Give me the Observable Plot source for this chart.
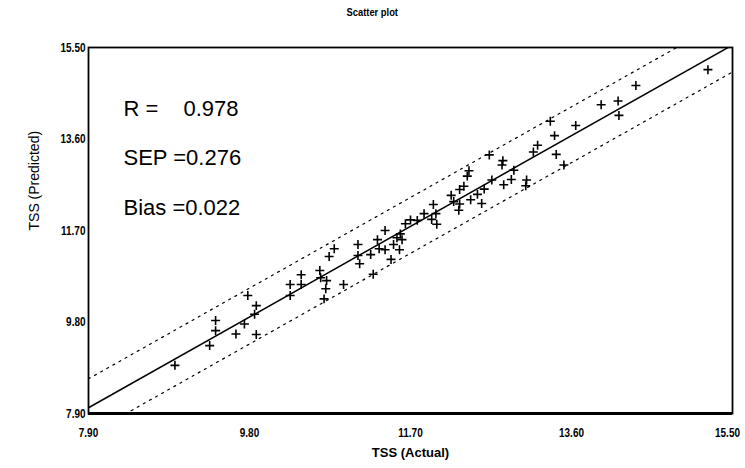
<!DOCTYPE html>
<html><head><meta charset="utf-8">
<script src="https://cdn.jsdelivr.net/npm/d3@7"></script>
<script src="https://cdn.jsdelivr.net/npm/@observablehq/plot@0.6"></script>
<style>
body{margin:0;background:#fff;}
#title{width:745px;height:24px;line-height:24px;text-align:center;font-family:"Liberation Sans",Arial,sans-serif;font-weight:bold;font-size:11px;color:#000;}
#title span{display:inline-block;transform:scaleX(0.85);}
</style></head><body>
<div id="title"><span>Scatter plot</span></div>
<div id="chart"></div>
<script>
const actual = [8.92, 9.33, 9.40, 9.40, 9.64, 9.74, 9.88, 9.88, 9.78, 9.86, 10.28, 10.28, 10.41, 10.41, 10.63, 10.64, 10.71, 10.70, 10.68, 10.74, 10.80, 10.91, 11.26, 11.08, 11.08, 11.10, 11.23, 11.31, 11.33, 11.40, 11.40, 11.47, 11.50, 11.54, 11.58, 11.60, 11.57, 11.64, 11.70, 11.78, 11.86, 11.95, 12.01, 11.97, 12.00, 12.18, 12.21, 12.28, 12.27, 12.28, 12.33, 12.41, 12.49, 12.54, 12.57, 12.39, 12.37, 12.63, 12.66, 12.78, 12.79, 12.80, 12.89, 12.92, 13.07, 13.06, 13.15, 13.20, 13.35, 13.40, 13.42, 13.51, 13.65, 13.95, 14.15, 14.16, 14.36, 15.21];
const predicted = [8.90, 9.31, 9.83, 9.62, 9.55, 9.76, 9.54, 10.14, 10.35, 9.96, 10.58, 10.35, 10.78, 10.58, 10.87, 10.72, 10.66, 10.49, 10.28, 11.16, 11.32, 10.58, 10.79, 11.41, 11.18, 11.01, 11.20, 11.51, 11.32, 11.30, 11.70, 11.10, 11.41, 11.55, 11.63, 11.51, 11.30, 11.84, 11.92, 11.91, 12.05, 11.93, 11.83, 12.24, 12.05, 12.43, 12.30, 12.25, 12.12, 12.55, 12.62, 12.34, 12.45, 12.26, 12.56, 12.94, 12.83, 13.27, 12.75, 13.06, 13.15, 12.65, 12.76, 12.95, 12.75, 12.63, 13.33, 13.47, 13.97, 13.67, 13.28, 13.06, 13.88, 14.31, 14.39, 14.09, 14.71, 15.04];
const axisTicks = [7.90, 9.80, 11.70, 13.60, 15.50];
const statLabels = ["R =", "SEP =", "Bias ="];
const statValues = ["0.978", "0.276", "0.022"];
const fitSlope = 0.991;
const fitIntercept = 0.191;
const bandUpper = 0.60;
const bandLower = -0.56;
const xTitle = "TSS (Actual)";
const yTitle = "TSS (Predicted)";

const pts = actual.map((a, i) => ({x: a, y: predicted[i]}));
const dom = [axisTicks[0], axisTicks[axisTicks.length - 1]];
const lineAt = (off) => dom.map(x => ({x, y: fitIntercept + fitSlope * x + off}));

const arial = '"Liberation Sans",Arial,sans-serif';
const tickOpts = {tickSize: 0, tickFormat: d => d.toFixed(2), fontFamily: arial, fontWeight: "bold", fontSize: 13.5, fill: "#000", label: null};

const plot = Plot.plot({
  width: 745, height: 444,
  marginTop: 23, marginBottom: 55, marginLeft: 88, marginRight: 13,
  style: {background: "#fff", color: "#000"},
  x: {domain: dom, ticks: axisTicks},
  y: {domain: dom, ticks: axisTicks},
  marks: [
    Plot.axisX(axisTicks, {...tickOpts, tickPadding: 14}),
    Plot.axisY(axisTicks, {...tickOpts, tickPadding: 3}),
    Plot.line(lineAt(bandUpper), {x: "x", y: "y", stroke: "#000", strokeWidth: 1.2, strokeDasharray: "2,5", clip: true}),
    Plot.line(lineAt(bandLower), {x: "x", y: "y", stroke: "#000", strokeWidth: 1.2, strokeDasharray: "2,5", clip: true}),
    Plot.line(lineAt(0), {x: "x", y: "y", stroke: "#000", strokeWidth: 1.5, clip: true}),
    Plot.dot(pts, {x: "x", y: "y", symbol: "plus", r: 3, stroke: "#000", strokeWidth: 1.6}),
    Plot.frame({stroke: "#000", strokeWidth: 1.8}),
    Plot.ruleY([dom[0]], {stroke: "#000", strokeWidth: 3}),
    Plot.text([statLabels[0]], {text: d => d, frameAnchor: "top-left", dx: 35, dy: 61, textAnchor: "start", lineAnchor: "middle", fontFamily: arial, fontSize: 22, fill: "#000"}),
    Plot.text([statValues[0]], {text: d => d, frameAnchor: "top-left", dx: 95, dy: 61, textAnchor: "start", lineAnchor: "middle", fontFamily: arial, fontSize: 22, fill: "#000"}),
    Plot.text([statLabels[1] + statValues[1]], {text: d => d, frameAnchor: "top-left", dx: 35, dy: 110, textAnchor: "start", lineAnchor: "middle", fontFamily: arial, fontSize: 22, fill: "#000"}),
    Plot.text([statLabels[2] + statValues[2]], {text: d => d, frameAnchor: "top-left", dx: 35, dy: 160, textAnchor: "start", lineAnchor: "middle", fontFamily: arial, fontSize: 22, fill: "#000"}),
    Plot.text([xTitle], {text: d => d, frameAnchor: "bottom", dy: 39, lineAnchor: "middle", fontFamily: arial, fontWeight: "bold", fontSize: 13, fill: "#000", ariaLabel: "xlabel"}),
    Plot.text([yTitle], {text: d => d, frameAnchor: "left", dx: -54, dy: 0, rotate: -90, lineAnchor: "middle", fontFamily: arial, fontSize: 14, fill: "#000", ariaLabel: "ylabel"})
  ]
});
document.getElementById("chart").appendChild(plot);
plot.querySelectorAll('g[aria-label="ylabel"] text').forEach(t => t.style.letterSpacing = "1.8px");
function squeeze(sel, f, size) {
  plot.querySelectorAll(sel).forEach(t => {
    t.style.fontWeight = "700"; t.style.fontSize = size + "px"; t.style.fontFamily = arial;
    const L = t.getComputedTextLength();
    t.setAttribute("textLength", (L * f).toFixed(1));
    t.setAttribute("lengthAdjust", "spacingAndGlyphs");
  });
}
squeeze('g[aria-label="x-axis tick label"] text', 0.74, 13.5);
squeeze('g[aria-label="y-axis tick label"] text', 0.74, 13.5);
squeeze('g[aria-label="xlabel"] text', 0.85, 13);
const xl = plot.querySelectorAll('g[aria-label="x-axis tick label"] text');
xl[xl.length - 1].setAttribute("x", "-5");
</script>
</body></html>
